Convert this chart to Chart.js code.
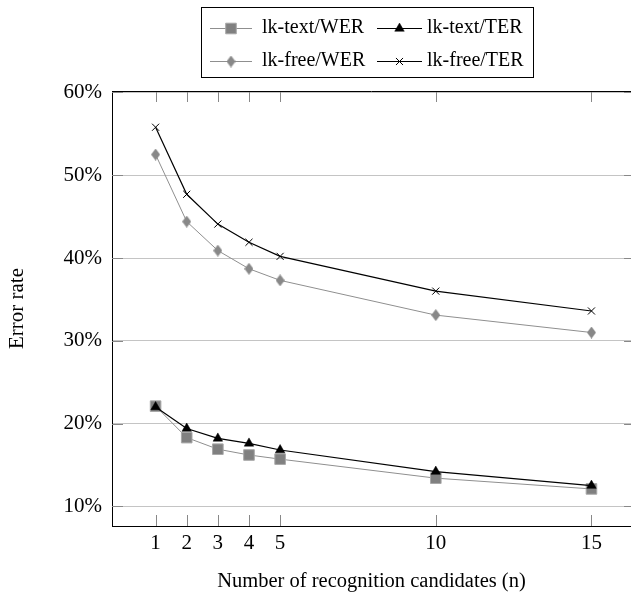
<!DOCTYPE html>
<html>
<head>
<meta charset="utf-8">
<script src="https://cdn.jsdelivr.net/npm/chart.js@4/dist/chart.umd.min.js"></script>
<style>
  html, body { margin: 0; padding: 0; background: #fff; overflow: hidden; }
</style>
</head>
<body>
<canvas id="c" width="631" height="594"></canvas>
<script>
// data
const candidates = [1, 2, 3, 4, 5, 10, 15];
const xTicks = [1, 2, 3, 4, 5, 10, 15];
const yTicks = [10, 20, 30, 40, 50, 60];
const lkTextWer = [22.1, 18.3, 16.9, 16.2, 15.7, 13.4, 12.1];
const lkTextTer = [22.0, 19.4, 18.2, 17.6, 16.8, 14.2, 12.5];
const lkFreeWer = [52.5, 44.4, 40.9, 38.7, 37.3, 33.1, 31.0];
const lkFreeTer = [55.8, 47.7, 44.1, 41.9, 40.2, 36.0, 33.6];
const seriesNames = ["lk-text/WER", "lk-text/TER", "lk-free/WER", "lk-free/TER"];

const FONT = "'Liberation Serif', 'DejaVu Serif', serif";

// schmale Raute wie bei pgfplots
function raute(w, h, fill) {
  const c = document.createElement("canvas");
  c.width = w; c.height = h;
  const g = c.getContext("2d");
  g.fillStyle = fill;
  g.beginPath();
  g.moveTo(w / 2, 0);
  g.lineTo(w, h / 2);
  g.lineTo(w / 2, h);
  g.lineTo(0, h / 2);
  g.closePath();
  g.fill();
  return c;
}

const pts = (ys) => candidates.map((x, i) => ({ x: x, y: ys[i] }));

const datasets = [
  { label: seriesNames[0], data: pts(lkTextWer), borderColor: "#8f8f8f", borderWidth: 1,
    pointStyle: "rect", pointRadius: 7.5, pointBackgroundColor: "#808080",
    pointBorderColor: "#a8a8a8", pointBorderWidth: 1, order: 4 },
  { label: seriesNames[1], data: pts(lkTextTer), borderColor: "#000", borderWidth: 1.2,
    pointStyle: "triangle", pointRadius: 5.5, pointBackgroundColor: "#000",
    pointBorderColor: "#000", pointBorderWidth: 0.5, order: 3 },
  { label: seriesNames[2], data: pts(lkFreeWer), borderColor: "#8f8f8f", borderWidth: 1,
    pointStyle: raute(9, 12, "#888"), pointRadius: 6, pointBackgroundColor: "#888",
    pointBorderColor: "#888", pointBorderWidth: 0, order: 2 },
  { label: seriesNames[3], data: pts(lkFreeTer), borderColor: "#000", borderWidth: 1.2,
    pointStyle: "crossRot", pointRadius: 5, pointBackgroundColor: "#000",
    pointBorderColor: "#000", pointBorderWidth: 1, order: 1 }
];

// Rahmen oben + Ticks nach innen (rechter Rand liegt knapp ausserhalb des Bildes)
const rahmen = {
  id: "rahmen",
  beforeDatasetsDraw(chart) {
    const { ctx, chartArea: a, scales } = chart;
    const rechts = scales.x.getPixelForValue(16.4);
    ctx.save();
    ctx.strokeStyle = "#888";
    ctx.lineWidth = 1;
    ctx.beginPath();
    xTicks.forEach((v) => {
      const x = Math.round(scales.x.getPixelForValue(v)) + 0.5;
      ctx.moveTo(x, a.bottom); ctx.lineTo(x, a.bottom - 11);
      ctx.moveTo(x, a.top); ctx.lineTo(x, a.top + 11);
    });
    yTicks.forEach((v) => {
      const y = Math.round(scales.y.getPixelForValue(v)) + 0.5;
      ctx.moveTo(a.left, y); ctx.lineTo(a.left + 11, y);
      ctx.moveTo(rechts, y); ctx.lineTo(rechts - 11, y);
    });
    ctx.stroke();
    ctx.strokeStyle = "#000";
    ctx.beginPath();
    ctx.moveTo(a.left, Math.round(a.top) + 0.5);
    ctx.lineTo(a.right, Math.round(a.top) + 0.5);
    ctx.stroke();
    ctx.restore();
  }
};

// Legende mit Kasten, zwei Spalten
const legende = {
  id: "legende",
  afterDraw(chart) {
    const ctx = chart.ctx;
    ctx.save();
    ctx.fillStyle = "#fff";
    ctx.fillRect(201, 7, 333, 70);
    ctx.strokeStyle = "#000";
    ctx.lineWidth = 1;
    ctx.strokeRect(201.5, 7.5, 332, 70);
    const rows = [28, 61];
    const cols = [[210, 252, 262], [377, 422, 427]];
    chart.data.datasets.forEach((ds, i) => {
      const y = rows[Math.floor(i / 2)];
      const [x0, x1, tx] = cols[i % 2];
      ctx.strokeStyle = ds.borderColor;
      ctx.lineWidth = ds.borderWidth;
      ctx.beginPath();
      ctx.moveTo(x0, y + 0.5);
      ctx.lineTo(x1, y + 0.5);
      ctx.stroke();
      ctx.fillStyle = ds.pointBackgroundColor;
      ctx.strokeStyle = ds.pointBorderColor;
      ctx.lineWidth = ds.pointBorderWidth;
      Chart.helpers.drawPoint(ctx, {
        pointStyle: ds.pointStyle, radius: ds.pointRadius, rotation: 0,
        borderWidth: ds.pointBorderWidth
      }, (x0 + x1) / 2, y + 0.5);
      ctx.fillStyle = "#000";
      ctx.font = "20px " + FONT;
      ctx.textBaseline = "middle";
      ctx.textAlign = "left";
      ctx.fillText(ds.label, tx, y);
    });
    ctx.restore();
  }
};

new Chart(document.getElementById("c"), {
  type: "line",
  data: { datasets: datasets },
  options: {
    responsive: false,
    animation: false,
    layout: { autoPadding: false, padding: { top: 91, right: 0, left: 0, bottom: 0 } },
    elements: { line: { tension: 0 } },
    plugins: { legend: { display: false }, tooltip: { enabled: false } },
    scales: {
      x: {
        type: "linear",
        min: -0.4,
        max: 16.27,
        afterBuildTicks: (s) => { s.ticks = xTicks.map((v) => ({ value: v })); },
        afterFit: (s) => { s.height = 68; s.paddingLeft = 0; s.paddingRight = 0; },
        grid: { display: false, drawTicks: false },
        border: { display: true, color: "#000", width: 1 },
        ticks: { autoSkip: false, maxRotation: 0, padding: 5, color: "#000",
                 font: { family: FONT, size: 21 } },
        title: { display: true, text: "Number of recognition candidates (n)", color: "#000",
                 font: { family: FONT, size: 20.5 }, padding: { top: 0, bottom: 0 } }
      },
      y: {
        min: 7.62,
        max: 60.18,
        afterBuildTicks: (s) => { s.ticks = yTicks.map((v) => ({ value: v })); },
        afterFit: (s) => { s.width = 112; },
        grid: { color: "#c4c4c4", lineWidth: 1, drawTicks: false },
        border: { display: true, color: "#000", width: 1 },
        ticks: { padding: 10, color: "#000", font: { family: FONT, size: 21 },
                 callback: (v) => v + "%" },
        title: { display: true, text: "Error rate", color: "#000",
                 font: { family: FONT, size: 21 }, padding: { top: 5, bottom: 0 } }
      }
    }
  },
  plugins: [rahmen, legende]
});
</script>
</body>
</html>
